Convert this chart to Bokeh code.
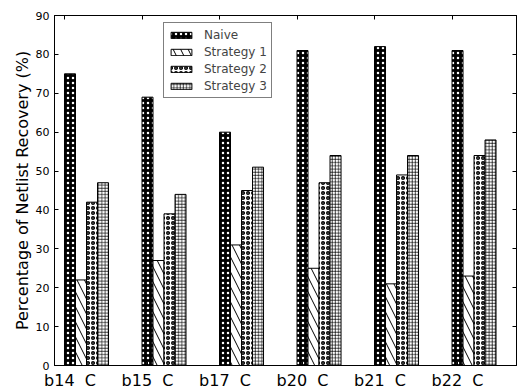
from bokeh.plotting import figure
from bokeh.models import (Range1d, FixedTicker, LinearAxis, Legend, LegendItem,
                          CustomJSTickFormatter, ColumnDataSource)
from bokeh.embed import file_html
from bokeh.resources import INLINE

categories = ["b14\u00a0\u00a0C", "b15\u00a0\u00a0C", "b17\u00a0\u00a0C",
              "b20\u00a0\u00a0C", "b21\u00a0\u00a0C", "b22\u00a0\u00a0C"]
series_names = ["Naive", "Strategy 1", "Strategy 2", "Strategy 3"]
naive = [75, 69, 60, 81, 82, 81]
strategy1 = [22, 27, 31, 25, 21, 23]
strategy2 = [42, 39, 45, 47, 49, 54]
strategy3 = [47, 44, 51, 54, 54, 58]
y_ticks = [0, 10, 20, 30, 40, 50, 60, 70, 80, 90]

FONT = "DejaVu Sans"
w = 0.142

p = figure(width=518, height=392, output_backend="svg", toolbar_location=None,
           x_range=Range1d(-0.129, 5.832), y_range=Range1d(0, 90),
           min_border_left=54, min_border_right=2, min_border_top=15,
           min_border_bottom=20)
p.background_fill_color = "white"
p.border_fill_color = "white"
p.outline_line_color = "black"
p.outline_line_width = 1
p.grid.visible = False

styles = [
    dict(fill_color="black", hatch_pattern="dot", hatch_color="white",
         hatch_scale=5, hatch_weight=1),
    dict(fill_color="white", hatch_pattern="left_diagonal_line", hatch_color="black",
         hatch_scale=15, hatch_weight=1),
    dict(fill_color="white", hatch_pattern="ring", hatch_color="black",
         hatch_scale=5, hatch_weight=1.5),
    dict(fill_color="white", hatch_pattern="cross", hatch_color="black",
         hatch_scale=3.2, hatch_weight=0.7),
]
all_vals = [naive, strategy1, strategy2, strategy3]
idx = list(range(len(categories)))
items = []
for k, (name, vals, st) in enumerate(zip(series_names, all_vals, styles)):
    src = ColumnDataSource(dict(x=[i + k * w + w / 2 for i in idx], top=vals))
    r = p.vbar(x="x", top="top", width=w, bottom=0, source=src,
               line_color="black", line_width=1, **st)
    items.append(LegendItem(label=name, renderers=[r]))

for ax in [p.xaxis[0], p.yaxis[0]]:
    ax.axis_line_color = "black"
    ax.major_tick_in = 4
    ax.major_tick_out = 0
    ax.minor_tick_line_color = None
    ax.major_tick_line_color = "black"

label_pos = [i + w / 2 for i in idx]
p.xaxis.ticker = FixedTicker(ticks=label_pos)
p.xaxis.major_label_overrides = {x: c for x, c in zip(label_pos, categories)}
p.xaxis.major_label_text_font = FONT
p.xaxis.major_label_text_font_size = "16px"
p.xaxis.major_label_text_color = "black"
p.xaxis.major_label_standoff = 5

p.yaxis.ticker = FixedTicker(ticks=y_ticks)
p.yaxis.major_label_text_font = FONT
p.yaxis.major_label_text_font_size = "11px"
p.yaxis.major_label_text_color = "black"
p.yaxis.major_label_standoff = 5
p.yaxis.axis_label = "Percentage of Netlist Recovery (%)"
p.yaxis.axis_label_text_font = FONT
p.yaxis.axis_label_text_font_size = "16px"
p.yaxis.axis_label_text_font_style = "normal"
p.yaxis.axis_label_text_color = "black"
p.yaxis.axis_label_standoff = 1

blank = CustomJSTickFormatter(code="return ''")
top_ax = LinearAxis(ticker=FixedTicker(ticks=idx), formatter=blank,
                    major_tick_in=4, major_tick_out=0, minor_tick_line_color=None,
                    major_label_standoff=0, axis_line_color="black")
right_ax = LinearAxis(ticker=FixedTicker(ticks=y_ticks), formatter=blank,
                      major_tick_in=4, major_tick_out=0, minor_tick_line_color=None,
                      major_label_standoff=0, axis_line_color="black")
p.add_layout(top_ax, "above")
p.add_layout(right_ax, "right")

legend = Legend(items=items, location=(109, 267), margin=0, padding=4, spacing=2,
                glyph_width=26, glyph_height=8, label_height=15, label_standoff=10,
                label_text_font=FONT, label_text_font_size="12px",
                border_line_color="black", border_line_width=1,
                background_fill_alpha=1)
p.add_layout(legend, "center")

open("out.html", "w").write(file_html(p, INLINE))
